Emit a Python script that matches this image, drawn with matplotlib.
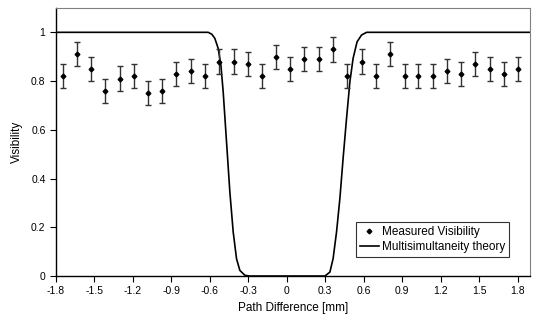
import matplotlib
matplotlib.use("Agg")
import matplotlib.pyplot as plt
from matplotlib.lines import Line2D

plt.rcParams['font.family'] = ['Liberation Sans', 'DejaVu Sans']

# Measured visibility
meas_x = [-1.748, -1.639, -1.527, -1.416, -1.304, -1.192, -1.083, -0.971,
          -0.862, -0.750, -0.639, -0.527, -0.415, -0.306, -0.194, -0.083,
          0.026, 0.137, 0.250, 0.359, 0.470, 0.583, 0.694, 0.806,
          0.918, 1.027, 1.138, 1.248, 1.359, 1.471, 1.583, 1.694, 1.803]
meas_y = [0.82, 0.91, 0.85, 0.76, 0.81, 0.82, 0.75, 0.76,
          0.83, 0.84, 0.82, 0.88, 0.88, 0.87, 0.82, 0.90,
          0.85, 0.89, 0.89, 0.93, 0.82, 0.88, 0.82, 0.91,
          0.82, 0.82, 0.82, 0.84, 0.83, 0.87, 0.85, 0.83, 0.85]
meas_err = [0.05] * len(meas_x)

# Multisimultaneity theory curve
theory_x = [-1.80, -0.613, -0.584, -0.561, -0.535, -0.514, -0.496, -0.470,
            -0.444, -0.418, -0.392, -0.366, -0.327, -0.288,
            0.297, 0.336, 0.361, 0.388, 0.414, 0.439, 0.466, 0.492,
            0.517, 0.548, 0.583, 0.622, 1.90]
theory_y = [1.0, 1.0, 0.992, 0.975, 0.934, 0.866, 0.756, 0.551,
            0.345, 0.181, 0.071, 0.023, 0.003, 0.0,
            0.0, 0.016, 0.071, 0.181, 0.318, 0.482, 0.647, 0.797,
            0.893, 0.961, 0.989, 1.0, 1.0]

xticks = [-1.8, -1.5, -1.2, -0.9, -0.6, -0.3, 0, 0.3, 0.6, 0.9, 1.2, 1.5, 1.8]
xticklabels = ["-1.8", "-1.5", "-1.2", "-0.9", "-0.6", "-0.3", "0", "0.3",
               "0.6", "0.9", "1.2", "1.5", "1.8"]
yticks = [0, 0.2, 0.4, 0.6, 0.8, 1]
yticklabels = ["0", "0.2", "0.4", "0.6", "0.8", "1"]

fig = plt.figure(figsize=(5.33, 3.18), dpi=100)
ax = fig.add_axes([0.105, 0.132, 0.889, 0.843])

ax.plot(theory_x, theory_y, color='black', lw=1.2, zorder=2)
ax.errorbar(meas_x, meas_y, yerr=meas_err, fmt='D', ms=2.4, color='black',
            ecolor='#333333', elinewidth=1.0, capsize=2.5, capthick=1.0,
            zorder=3)

ax.set_xlim(-1.8, 1.895)
ax.set_ylim(0, 1.1)
ax.set_xticks(xticks)
ax.set_xticklabels(xticklabels)
ax.set_yticks(yticks)
ax.set_yticklabels(yticklabels)
ax.tick_params(axis='both', direction='out', length=4, width=0.8,
               labelsize=7.5, colors='black')

for s in ['left', 'bottom']:
    ax.spines[s].set_color('black')
    ax.spines[s].set_linewidth(1.0)
for s in ['top', 'right']:
    ax.spines[s].set_color('#808080')
    ax.spines[s].set_linewidth(0.8)

ax.set_xlabel('Path Difference [mm]', fontsize=8.5, labelpad=4)
ax.set_ylabel('Visibility', fontsize=8.5, labelpad=6)

h_meas = Line2D([], [], marker='D', ms=2.4, color='black', ls='none')
h_th = Line2D([], [], color='black', lw=1.2)
leg = ax.legend([h_meas, h_th], ['Measured Visibility', 'Multisimultaneity theory'],
                loc='lower right', bbox_to_anchor=(0.956, 0.071), fontsize=8.5,
                frameon=True, fancybox=False, edgecolor='black',
                borderpad=0.3, handlelength=1.6, handletextpad=0.3,
                labelspacing=0.3, borderaxespad=0)
leg.get_frame().set_linewidth(0.8)

fig.savefig('out.png', dpi=100)
